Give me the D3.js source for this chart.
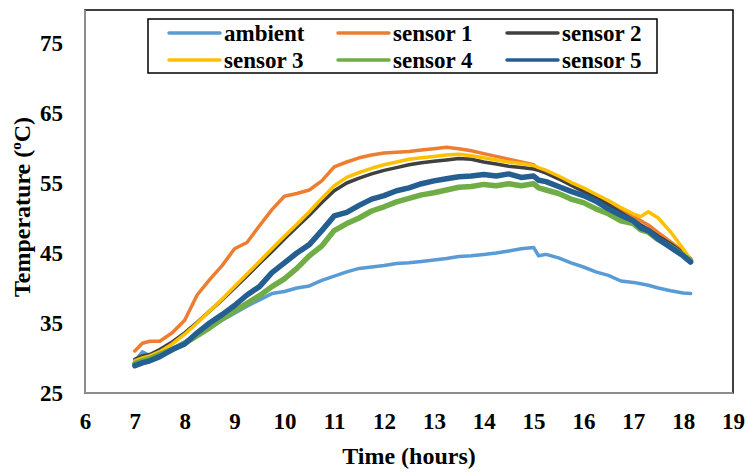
<!DOCTYPE html>
<html><head><meta charset="utf-8">
<script src="https://cdn.jsdelivr.net/npm/d3@7"></script>
<style>body{margin:0;background:#fff}svg{display:block}text{font-family:"Liberation Serif","Times New Roman",serif;font-weight:bold;fill:#000}</style>
</head><body><svg id="c" width="748" height="475"></svg>
<script>
const times = [7.0,7.15,7.3,7.5,7.75,8.0,8.25,8.5,8.75,9.0,9.25,9.5,9.75,10.0,10.25,10.5,10.75,11.0,11.25,11.5,11.75,12.0,12.25,12.5,12.75,13.0,13.25,13.5,13.75,14.0,14.25,14.5,14.75,15.0,15.1,15.25,15.5,15.75,16.0,16.25,16.5,16.75,17.0,17.15,17.3,17.5,17.75,18.0,18.15];
const ambient = [29.5,30.9,30.3,31.0,31.3,32.3,33.5,34.3,35.4,36.4,37.4,38.3,39.2,39.5,40.0,40.3,41.1,41.7,42.3,42.8,43.0,43.2,43.5,43.6,43.8,44.0,44.2,44.5,44.6,44.8,45.0,45.3,45.6,45.8,44.6,44.8,44.3,43.6,43.0,42.3,41.8,41.0,40.8,40.6,40.4,40.0,39.6,39.3,39.2];
const sensor1 = [31.0,32.1,32.4,32.4,33.6,35.4,39.0,41.2,43.2,45.6,46.5,48.9,51.2,53.1,53.5,54.0,55.3,57.3,58.0,58.6,59.0,59.3,59.4,59.5,59.7,59.9,60.1,59.9,59.6,59.2,58.8,58.4,58.0,57.6,57.0,56.6,55.8,55.0,54.1,53.2,52.2,51.2,50.2,49.6,49.0,47.9,46.6,45.2,44.2];
const sensor2 = [29.8,30.3,30.5,31.2,32.3,33.6,35.1,36.7,38.3,40.0,41.7,43.5,45.2,47.0,48.7,50.4,52.2,53.9,55.0,55.7,56.3,56.8,57.2,57.6,57.9,58.1,58.3,58.5,58.4,58.0,57.7,57.4,57.2,57.0,56.8,56.4,55.6,54.7,53.8,52.9,51.9,50.8,49.7,49.0,48.4,47.4,46.3,45.0,44.1];
const sensor3 = [29.6,30.0,30.3,30.9,32.0,33.4,35.0,36.7,38.4,40.2,42.0,43.8,45.6,47.4,49.1,50.9,52.8,54.6,55.8,56.5,57.1,57.6,58.0,58.4,58.6,58.8,59.0,59.1,58.9,58.6,58.3,58.0,57.8,57.5,57.2,56.8,56.0,55.1,54.3,53.4,52.5,51.5,50.6,50.2,50.9,50.0,48.0,45.6,44.0];
const sensor4 = [29.2,29.6,29.9,30.5,31.2,32.1,33.2,34.3,35.6,36.7,37.8,38.9,40.2,41.3,42.8,44.6,46.0,48.2,49.2,50.0,51.0,51.6,52.3,52.8,53.3,53.6,54.0,54.4,54.5,54.8,54.6,54.9,54.6,54.9,54.3,54.0,53.5,52.7,52.2,51.3,50.6,49.6,49.2,48.3,48.0,46.9,45.9,44.7,43.9];
const sensor5 = [28.9,29.3,29.6,30.2,31.2,32.0,33.6,35.0,36.2,37.5,39.0,40.2,42.2,43.6,45.0,46.2,48.2,50.3,50.8,51.8,52.7,53.2,53.9,54.3,54.9,55.3,55.6,55.9,56.0,56.2,56.0,56.3,55.8,56.0,55.4,55.2,54.5,53.8,53.2,52.4,51.3,50.4,49.6,48.6,48.2,47.0,45.8,44.6,43.7];
const seriesNames = ["ambient","sensor 1","sensor 2","sensor 3","sensor 4","sensor 5"];
const seriesColors = ["#5B9BD5","#ED7D31","#404040","#FFC000","#70AD47","#255E91"];
const xTicks = [6,7,8,9,10,11,12,13,14,15,16,17,18,19];
const yTicks = [25,35,45,55,65,75];

const allSeries = [ambient,sensor1,sensor2,sensor3,sensor4,sensor5];
const widths = [3.5,3.5,3.5,3.5,5.5,5.5];
const svg = d3.select("#c");
const L=85,R=733,T=10,B=393;
const x = d3.scaleLinear().domain([6,19]).range([L,R]);
const y = d3.scaleLinear().domain([25,75]).range([B,B-350]);

// plot frame
svg.append("rect").attr("x",L).attr("y",T).attr("width",R-L).attr("height",B-T)
  .attr("fill","none").attr("stroke","#000").attr("stroke-width",1.5);
svg.append("line").attr("x1",L).attr("x2",L).attr("y1",T).attr("y2",B).attr("stroke","#a6a6a6").attr("stroke-width",1.5);
svg.append("line").attr("x1",L).attr("x2",R).attr("y1",B).attr("y2",B).attr("stroke","#a6a6a6").attr("stroke-width",1.5);

// axes (labels only)
const xa = svg.append("g").attr("transform",`translate(0,${B})`)
  .call(d3.axisBottom(x).tickValues(xTicks).tickSize(0).tickPadding(20));
xa.select(".domain").remove();
xa.selectAll("text").attr("font-size",23).attr("font-family","Liberation Serif").attr("font-weight","bold").attr("fill","#000");
const ya = svg.append("g").attr("transform",`translate(${L},0)`)
  .call(d3.axisLeft(y).tickValues(yTicks).tickSize(0).tickPadding(22));
ya.select(".domain").remove();
ya.selectAll("text").attr("font-size",23).attr("font-family","Liberation Serif").attr("font-weight","bold").attr("fill","#000");

// lines
const line = d3.line().x((d,i)=>x(times[i])).y(d=>y(d)).curve(d3.curveLinear);
allSeries.forEach((s,k)=>{
  svg.append("path").datum(s).attr("d",line).attr("fill","none")
    .attr("stroke",seriesColors[k]).attr("stroke-width",widths[k])
    .attr("stroke-linejoin","round").attr("stroke-linecap","round");
});

// legend
const lg = svg.append("g");
lg.append("rect").attr("x",148).attr("y",19).attr("width",509).attr("height",54)
  .attr("fill","#fff").attr("stroke","#000").attr("stroke-width",1.5);
const colX=[169,338,507], rowY=[33,60];
seriesNames.forEach((n,k)=>{
  const cx=colX[k%3], cy=rowY[Math.floor(k/3)];
  lg.append("line").attr("x1",cx).attr("x2",cx+51).attr("y1",cy).attr("y2",cy)
    .attr("stroke",seriesColors[k]).attr("stroke-width",3.5).attr("stroke-linecap","round");
  lg.append("text").attr("x",cx+55).attr("y",cy).attr("dy","0.35em").attr("font-size",23).text(n);
});

// titles
svg.append("text").attr("x",409).attr("y",464).attr("text-anchor","middle").attr("font-size",24).text("Time (hours)");
const yt = svg.append("text").attr("transform","translate(30,207) rotate(-90)").attr("text-anchor","middle").attr("font-size",24);
yt.append("tspan").text("Temperature (");
yt.append("tspan").attr("font-size",15).attr("dy",-9).text("o");
yt.append("tspan").attr("dy",9).text("C)");
</script></body></html>
